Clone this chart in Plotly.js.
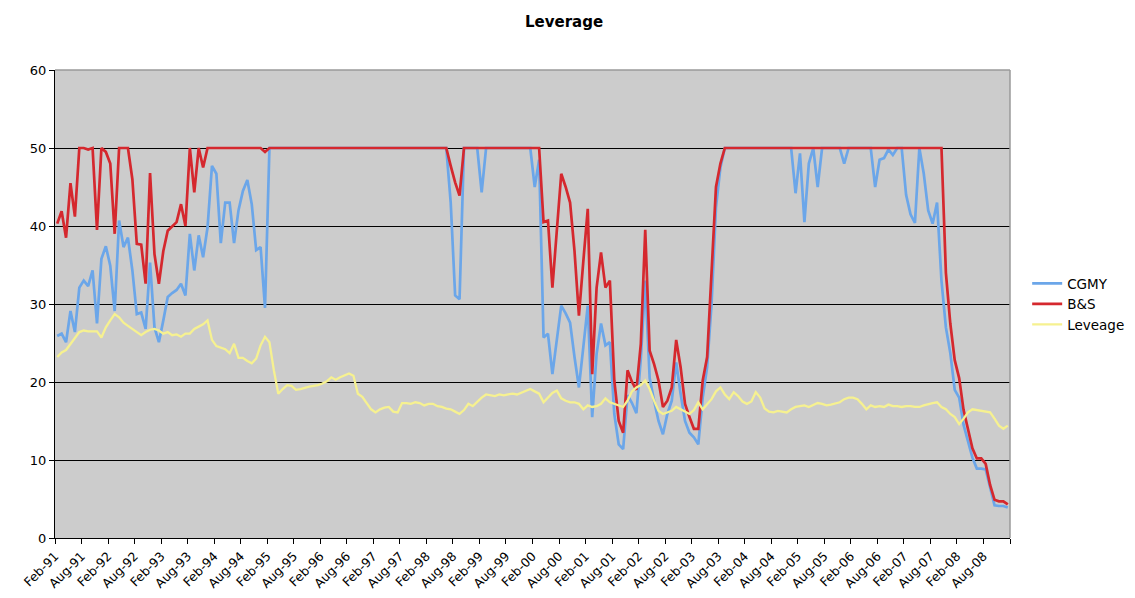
<!DOCTYPE html>
<html>
<head>
<meta charset="utf-8">
<script src="https://cdn.plot.ly/plotly-3.0.1.min.js"></script>
<style>html,body{margin:0;padding:0;background:#fff;}#chart{width:1135px;height:598px;}</style>
</head>
<body>
<div id="chart"></div>
<script>
// Monthly observations, Feb-91 .. Jan-09
const monthNames = ['Jan','Feb','Mar','Apr','May','Jun','Jul','Aug','Sep','Oct','Nov','Dec'];
const months = [];
for (let i = 0; i < 216; i++) {
  const m = (1 + i) % 12;
  const y = (91 + Math.floor((1 + i) / 12)) % 100;
  months.push(monthNames[m] + '-' + String(y).padStart(2, '0'));
}

const tickLabels = ['Feb-91','Aug-91','Feb-92','Aug-92','Feb-93','Aug-93','Feb-94','Aug-94',
  'Feb-95','Aug-95','Feb-96','Aug-96','Feb-97','Aug-97','Feb-98','Aug-98','Feb-99','Aug-99',
  'Feb-00','Aug-00','Feb-01','Aug-01','Feb-02','Aug-02','Feb-03','Aug-03','Feb-04','Aug-04',
  'Feb-05','Aug-05','Feb-06','Aug-06','Feb-07','Aug-07','Feb-08','Aug-08'];

const cgmy = [
  25.9,26.2,25.1,29.1,26.4,32.1,33,32.3,34.3,27.5,35.8,37.4,
  34.9,29.1,40.7,37.3,38.5,34.3,28.7,28.9,26.8,35.3,27,25.1,
  27.9,30.9,31.4,31.8,32.6,31.1,39,34.3,38.8,36,39.8,47.7,
  46.7,37.8,43,43,37.8,42,44.5,45.9,42.8,36.9,37.3,29.5,
  50,50,50,50,50,50,50,50,50,50,50,50,
  50,50,50,50,50,50,50,50,50,50,50,50,
  50,50,50,50,50,50,50,50,50,50,50,50,
  50,50,50,50,50,43,31.1,30.6,50,50,50,50,
  44.3,50,50,50,50,50,50,50,50,50,50,50,
  45,48.5,25.7,26.2,21,25.5,29.8,28.8,27.6,23.2,19.3,24.5,
  29.8,15.5,23.6,27.5,24.7,25.1,15.9,12,11.4,18.3,17.3,16,
  23,33,20.5,17.6,15,13.3,15.9,17.6,22.5,18.5,15,13.5,
  12.9,12,18,21.9,30,42.4,47.5,50,50,50,50,50,
  50,50,50,50,50,50,50,50,50,50,50,44.2,
  49.3,40.5,48,50,45,50,50,50,50,50,48,50,
  50,50,50,50,50,45,48.5,48.7,49.8,49.1,50,50,
  44,41.5,40.4,50,46.7,42,40.3,43,33,27,23.7,19,
  18,14.5,12.2,10.3,8.9,8.9,8.8,6.5,4.2,4.1,4.1,3.9
];

const bs = [
  40.3,41.9,38.5,45.5,41.2,50,50,49.8,50,39.5,50,49.5,
  48,39,50,50,50,46,37.7,37.6,32.6,46.8,36.4,32.6,
  36.8,39.4,40,40.5,42.8,40,50,44.3,50,47.5,50,50,
  50,50,50,50,50,50,50,50,50,50,50,49.5,
  50,50,50,50,50,50,50,50,50,50,50,50,
  50,50,50,50,50,50,50,50,50,50,50,50,
  50,50,50,50,50,50,50,50,50,50,50,50,
  50,50,50,50,50,47.7,45.6,43.9,50,50,50,50,
  50,50,50,50,50,50,50,50,50,50,50,50,
  50,50,40.5,40.7,32.1,39.5,46.7,45,43,36.8,28.5,35.5,
  42.2,21,32.1,36.6,32.1,33,20.2,15,13.5,21.5,20,19,
  24.9,39.5,24,22.3,20.2,16.8,17.6,19.3,25.4,21.9,17.2,15.5,
  14,14,20.2,23.2,33.8,45,48,50,50,50,50,50,
  50,50,50,50,50,50,50,50,50,50,50,50,
  50,50,50,50,50,50,50,50,50,50,50,50,
  50,50,50,50,50,50,50,50,50,50,50,50,
  50,50,50,50,50,50,50,50,50,34,27.5,22.8,
  20.5,16.4,14,11.5,10.2,10.2,9.5,6.8,4.9,4.7,4.7,4.3
];

const leveage = [
  23.2,23.8,24.1,24.9,25.7,26.4,26.6,26.5,26.5,26.5,25.7,27,
  27.9,28.7,28.3,27.6,27.2,26.8,26.4,26,26.4,26.7,26.8,26.6,
  26.2,26.4,26,26.1,25.8,26.2,26.2,26.8,27.1,27.4,27.9,25.4,
  24.6,24.4,24.2,23.7,24.9,23.1,23.1,22.7,22.4,23,24.7,25.8,
  25.1,21.5,18.5,19.1,19.6,19.5,19,19.1,19.3,19.4,19.5,19.6,
  19.8,20.1,20.6,20.3,20.6,20.8,21.1,20.8,18.5,18.1,17.3,16.5,
  16.1,16.5,16.7,16.8,16.2,16.1,17.3,17.3,17.2,17.4,17.3,17,
  17.2,17.2,16.9,16.8,16.6,16.5,16.2,15.9,16.4,17.2,16.9,17.5,
  18,18.4,18.3,18.2,18.4,18.3,18.4,18.5,18.4,18.6,18.9,19.1,
  18.8,18.5,17.4,18,18.6,18.9,17.9,17.6,17.4,17.4,17.2,16.5,
  17,16.8,16.9,17.2,17.9,17.4,17.2,17,16.8,17.6,18.8,19.3,
  19.6,20.2,19.1,17.6,16.3,15.9,16.1,16.3,16.8,16.5,16.2,15.9,
  16.4,17.4,16.5,17.2,17.8,18.8,19.3,18.4,17.8,18.7,18.2,17.5,
  17.2,17.5,18.7,18,16.6,16.2,16.1,16.3,16.2,16.1,16.5,16.8,
  16.9,17,16.8,17,17.3,17.2,17,17.1,17.3,17.4,17.8,18,
  18,17.8,17.2,16.5,17,16.8,16.9,16.8,17.1,16.9,16.9,16.8,
  16.9,16.9,16.8,16.8,17,17.2,17.3,17.4,16.8,16.5,15.9,15.5,
  14.6,15.3,16.1,16.5,16.4,16.3,16.2,16.1,15.3,14.4,14,14.4
];

const xIdx = months.map((m, i) => i);
const tickVals = tickLabels.map((t, k) => k * 6 - 0.5).concat([months.length - 0.5]);
const tickText = tickLabels.concat(['']);

const font = 'DejaVu Sans, Verdana, sans-serif';

const traces = [
  {name: 'CGMY', x: xIdx, y: cgmy, text: months, type: 'scatter', mode: 'lines',
   line: {color: '#6ba6e9', width: 2.7}},
  {name: 'B&S', x: xIdx, y: bs, text: months, type: 'scatter', mode: 'lines',
   line: {color: '#d5282e', width: 2.7}},
  {name: 'Leveage', x: xIdx, y: leveage, text: months, type: 'scatter', mode: 'lines',
   line: {color: '#f6f190', width: 2.3}}
];

const layout = {
  width: 1135, height: 598,
  margin: {l: 55, r: 125, t: 70, b: 60, pad: 0, autoexpand: false},
  paper_bgcolor: '#ffffff',
  plot_bgcolor: '#cccccc',
  font: {family: font, size: 12, color: '#000'},
  title: {text: '<b>Leverage</b>', x: 0.497, xanchor: 'center', y: 0.963, yanchor: 'middle',
          font: {family: font, size: 15, color: '#000'}},
  showlegend: true,
  legend: {xref: 'container', x: 0.905, xanchor: 'left', y: 0.5, yanchor: 'middle',
           font: {family: font, size: 13.5},
           bgcolor: 'rgba(0,0,0,0)', itemwidth: 30, tracegroupgap: 0},
  xaxis: {
    range: [-0.5, 215.5], tickmode: 'array', tickvals: tickVals, ticktext: tickText,
    tickangle: -45, ticks: 'outside', ticklen: 5, tickcolor: '#000', tickwidth: 1,
    showline: true, linecolor: '#000', linewidth: 1, showgrid: false, zeroline: false,
    automargin: false,
    tickfont: {family: font, size: 12.5, color: '#000'}, fixedrange: true
  },
  yaxis: {
    range: [0, 60], tickmode: 'linear', tick0: 0, dtick: 10,
    ticks: 'outside', ticklen: 5, tickcolor: '#000', tickwidth: 1,
    showline: true, linecolor: '#000', linewidth: 1, automargin: false,
    showgrid: true, gridcolor: '#000', gridwidth: 1, zeroline: false,
    tickfont: {family: font, size: 13, color: '#000'}, fixedrange: true
  },
  shapes: [
    {type: 'line', xref: 'paper', yref: 'paper', x0: 0, x1: 1, y0: 1, y1: 1,
     line: {color: '#9a9a9a', width: 1.5}, layer: 'above'},
    {type: 'line', xref: 'paper', yref: 'paper', x0: 1, x1: 1, y0: 0, y1: 1,
     line: {color: '#9a9a9a', width: 1.5}, layer: 'above'}
  ]
};

Plotly.newPlot('chart', traces, layout, {displayModeBar: false, staticPlot: true});
</script>
</body>
</html>
